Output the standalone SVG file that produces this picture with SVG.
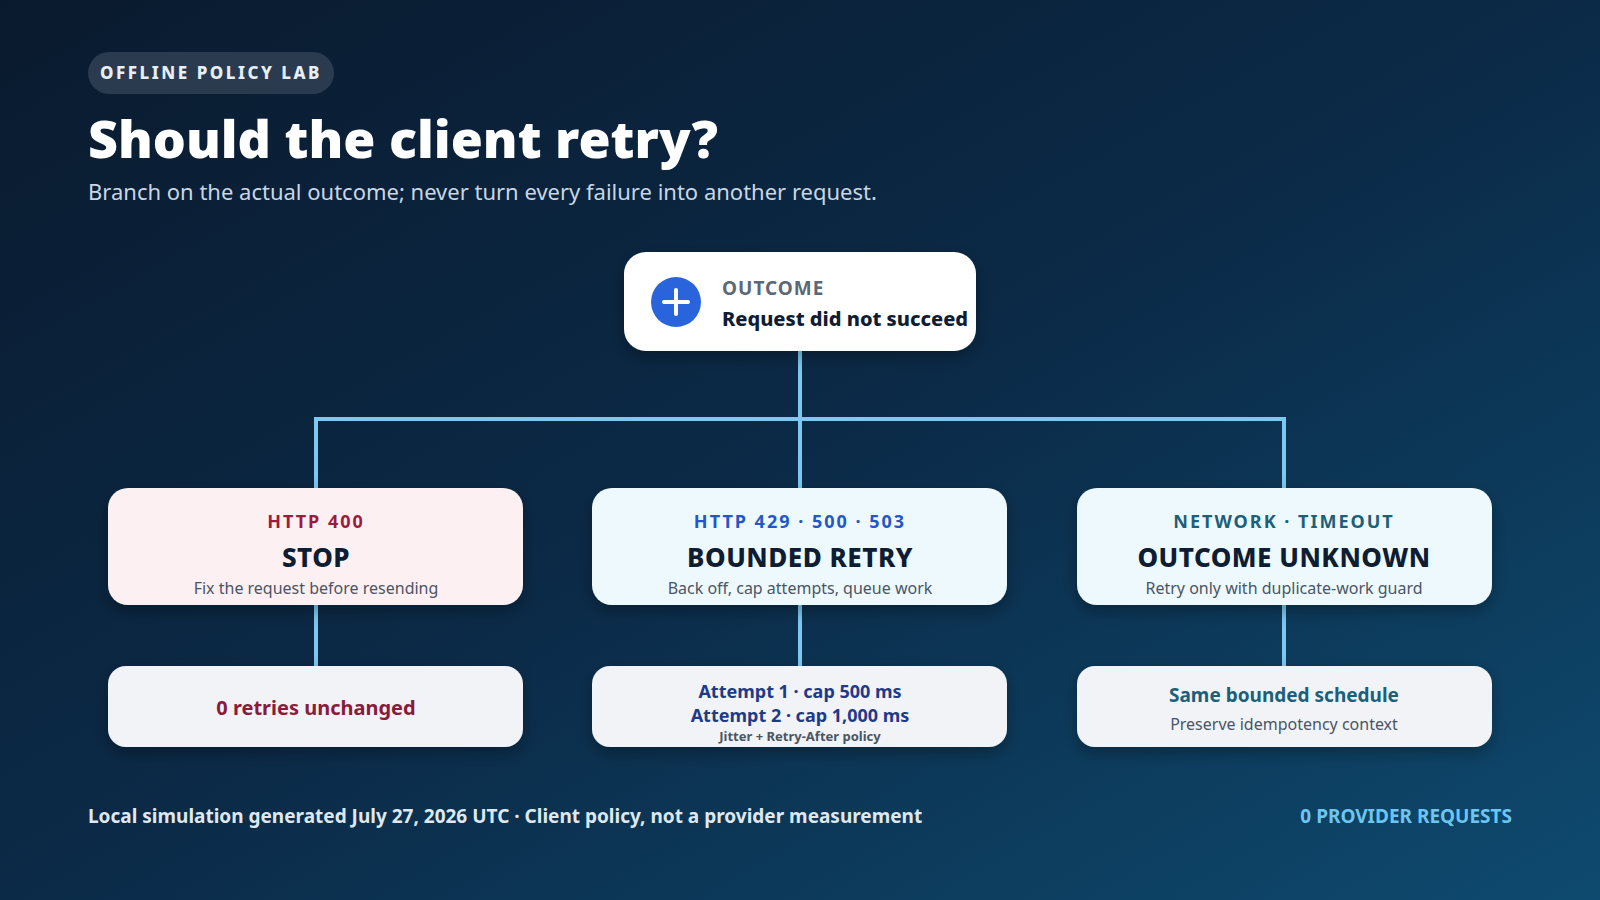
<svg xmlns="http://www.w3.org/2000/svg" width="1600" height="900" viewBox="0 0 1600 900">
<defs>
<linearGradient id="bg" x1="0" y1="0" x2="1" y2="1">
<stop offset="0" stop-color="#0a1a2e"/><stop offset="0.5" stop-color="#0b2a47"/><stop offset="1" stop-color="#0e4a6f"/>
</linearGradient>
<filter id="sh" x="-10%" y="-20%" width="120%" height="150%"><feDropShadow dx="0" dy="6" stdDeviation="8" flood-color="#000" flood-opacity="0.3"/></filter>
</defs>
<style>
text{font-family:"Noto Sans","Open Sans","Liberation Sans",sans-serif}
.card{filter:url(#sh)}
.hd{font-size:18px;font-weight:700;letter-spacing:2px;text-anchor:middle}
.tt{font-size:26px;font-weight:800;fill:#0f1d33;text-anchor:middle;letter-spacing:0.5px}
.sb{font-size:16px;fill:#4a5565;text-anchor:middle}
.con{stroke:#7cc8f0;stroke-width:4;fill:none}
</style>
<rect width="1600" height="900" fill="url(#bg)"/>
<g id="header">
<rect x="88" y="52" width="246" height="42" rx="21" fill="#2a3a4f"/>
<text x="211" y="79" text-anchor="middle" font-size="17" font-weight="800" letter-spacing="2.5" fill="#e8eef5">OFFLINE POLICY LAB</text>
<text x="88" y="158" font-size="52" font-weight="900" fill="#ffffff">Should the client retry?</text>
<text x="88" y="200" font-size="22" fill="#c9d6e4">Branch on the actual outcome; never turn every failure into another request.</text>
</g>
<g id="connectors">
<path class="con" d="M800 351V419M316 419H1284M316 417V488M800 419V488M1284 417V488M316 605V666M800 605V666M1284 605V666"/>
</g>
<g id="outcome">
<rect class="card" x="624" y="252" width="352" height="99" rx="22" fill="#ffffff"/>
<circle cx="676" cy="302" r="25" fill="#2a64dc"/>
<path d="M676 290V314M664 302H688" stroke="#fff" stroke-width="4" stroke-linecap="round"/>
<text x="722" y="295" font-size="19" font-weight="700" letter-spacing="1" fill="#5b6878">OUTCOME</text>
<text x="722" y="326" font-size="20" font-weight="800" fill="#0f1d33">Request did not succeed</text>
</g>
<g id="stop">
<rect class="card" x="108" y="488" width="415" height="117" rx="20" fill="#fdf0f2"/>
<text class="hd" x="316" y="528" fill="#9b1b3c">HTTP 400</text>
<text class="tt" x="316" y="567">STOP</text>
<text class="sb" x="316" y="594">Fix the request before resending</text>
</g>
<g id="retry">
<rect class="card" x="592" y="488" width="415" height="117" rx="20" fill="#eef9fd"/>
<text class="hd" x="800" y="528" fill="#2456c8">HTTP 429 · 500 · 503</text>
<text class="tt" x="800" y="567">BOUNDED RETRY</text>
<text class="sb" x="800" y="594">Back off, cap attempts, queue work</text>
</g>
<g id="unknown">
<rect class="card" x="1077" y="488" width="415" height="117" rx="20" fill="#eef9fd"/>
<text class="hd" x="1284" y="528" fill="#1d5f7a">NETWORK · TIMEOUT</text>
<text class="tt" x="1284" y="567">OUTCOME UNKNOWN</text>
<text class="sb" x="1284" y="594">Retry only with duplicate-work guard</text>
</g>
<g id="stop-detail">
<rect class="card" x="108" y="666" width="415" height="81" rx="18" fill="#f1f3f6"/>
<text x="316" y="715" text-anchor="middle" font-size="20" font-weight="700" fill="#8b1a3c">0 retries unchanged</text>
</g>
<g id="retry-detail">
<rect class="card" x="592" y="666" width="415" height="81" rx="18" fill="#f1f3f6"/>
<text x="800" y="698" text-anchor="middle" font-size="18" font-weight="700" fill="#1e3a8a">Attempt 1 · cap 500 ms</text>
<text x="800" y="722" text-anchor="middle" font-size="18" font-weight="700" fill="#1e3a8a">Attempt 2 · cap 1,000 ms</text>
<text x="800" y="741" text-anchor="middle" font-size="13" font-weight="700" fill="#4a5565">Jitter + Retry-After policy</text>
</g>
<g id="unknown-detail">
<rect class="card" x="1077" y="666" width="415" height="81" rx="18" fill="#f1f3f6"/>
<text x="1284" y="702" text-anchor="middle" font-size="19" font-weight="700" fill="#1d5f7a">Same bounded schedule</text>
<text x="1284" y="730" text-anchor="middle" font-size="16" fill="#4a5565">Preserve idempotency context</text>
</g>
<g id="footer">
<text x="88" y="823" font-size="19" font-weight="700" fill="#dfe8f0">Local simulation generated July 27, 2026 UTC · Client policy, not a provider measurement</text>
<text x="1512" y="823" text-anchor="end" font-size="19" font-weight="700" fill="#6cc6f0">0 PROVIDER REQUESTS</text>
</g>
</svg>
